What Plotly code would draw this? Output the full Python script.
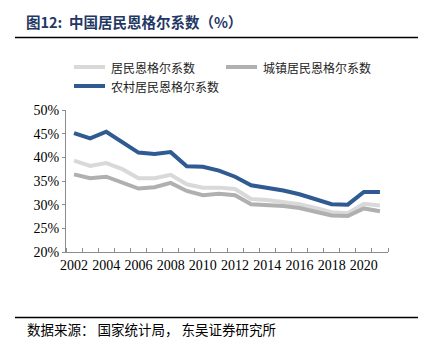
import plotly.graph_objects as go

# Engel coefficient (%), 2002-2021
years = list(range(2002, 2022))
national = [39.3, 38.2, 38.8, 37.5, 35.6, 35.6, 36.3, 34.3, 33.6, 33.6, 33.3,
            31.2, 31.0, 30.6, 30.1, 29.3, 28.4, 28.2, 30.2, 29.8]
urban = [36.4, 35.6, 35.9, 34.7, 33.4, 33.7, 34.6, 32.9, 32.0, 32.3, 32.0,
         30.1, 30.0, 29.7, 29.3, 28.6, 27.7, 27.6, 29.2, 28.6]
rural = [45.1, 44.0, 45.4, 43.3, 41.0, 40.7, 41.1, 38.1, 38.0, 37.2, 35.9,
         34.1, 33.6, 33.0, 32.2, 31.2, 30.1, 30.0, 32.7, 32.7]

series_names = ["居民恩格尔系数", "城镇居民恩格尔系数", "农村居民恩格尔系数"]
series_colors = ["#D9D9D9", "#B0B0B0", "#2F5A92"]
year_labels = [str(y) for y in range(2002, 2022, 2)]
y_ticks = [20, 25, 30, 35, 40, 45, 50]

W, H = 430, 338
L, R, T, B = 66, 42, 110, 86
pw, ph = W - L - R, H - T - B


def px_x(px):
    return (px - L) / pw


def px_y(py):
    return (H - B - py) / ph


cjk = "Noto Sans CJK SC"
serif = "Liberation Serif"

fig = go.Figure()
for name, vals, col in zip(series_names, [national, urban, rural], series_colors):
    fig.add_trace(go.Scatter(x=years, y=vals, name=name, mode="lines",
                             line=dict(color=col, width=4),
                             showlegend=False, hoverinfo="x+y+name"))

fig.update_layout(
    width=W, height=H,
    margin=dict(l=L, r=R, t=T, b=B),
    paper_bgcolor="white", plot_bgcolor="white",
    xaxis=dict(range=[2001.5, 2021.5], tickmode="array",
               tickvals=[int(s) for s in year_labels], ticktext=year_labels,
               ticks="", showgrid=False, zeroline=False,
               showline=True, linecolor="#8C8C8C", linewidth=1,
               tickfont=dict(family=serif, size=14, color="#000"),
               minor=dict(tickmode="linear", tick0=2001.5, dtick=1,
                          ticks="inside", ticklen=4, tickcolor="#8C8C8C",
                          showgrid=False)),
    yaxis=dict(range=[20, 50], tickmode="array", tickvals=y_ticks,
               ticktext=[f"{v}%" for v in y_ticks],
               ticks="outside", ticklen=3, tickcolor="#8C8C8C",
               showgrid=False, zeroline=False,
               showline=True, linecolor="#8C8C8C", linewidth=1,
               tickfont=dict(family=serif, size=14, color="#000")),
)

shapes = []
annotations = []

# title and rule beneath it
annotations.append(dict(xref="paper", yref="paper", x=px_x(24), y=px_y(22),
                        xanchor="left", yanchor="middle", showarrow=False,
                        text="<b>图12:  中国居民恩格尔系数（%）</b>",
                        font=dict(family=cjk, size=14.5, color="#1F3864")))
shapes.append(dict(type="line", xref="paper", yref="paper",
                   x0=px_x(15), x1=px_x(418), y0=px_y(37.5), y1=px_y(37.5),
                   line=dict(color="#000", width=1.5)))

# source rule and note
shapes.append(dict(type="line", xref="paper", yref="paper",
                   x0=px_x(15), x1=px_x(418), y0=px_y(317.5), y1=px_y(317.5),
                   line=dict(color="#000", width=1.5)))
annotations.append(dict(xref="paper", yref="paper", x=px_x(25), y=px_y(328.5),
                        xanchor="left", yanchor="middle", showarrow=False,
                        text="数据来源： 国家统计局， 东吴证券研究所",
                        font=dict(family=cjk, size=13.5, color="#000")))

# legend
legend_pos = [(74, 67), (226, 67), (74, 86)]
for name, col, (lx, ly) in zip(series_names, series_colors, legend_pos):
    shapes.append(dict(type="line", xref="paper", yref="paper",
                       x0=px_x(lx), x1=px_x(lx + 31), y0=px_y(ly), y1=px_y(ly),
                       line=dict(color=col, width=4)))
    annotations.append(dict(xref="paper", yref="paper", x=px_x(lx + 35), y=px_y(ly),
                            xanchor="left", yanchor="middle", showarrow=False,
                            text=name, font=dict(family=cjk, size=12, color="#222")))

fig.update_layout(shapes=shapes, annotations=annotations)
fig.write_html("out.html")
